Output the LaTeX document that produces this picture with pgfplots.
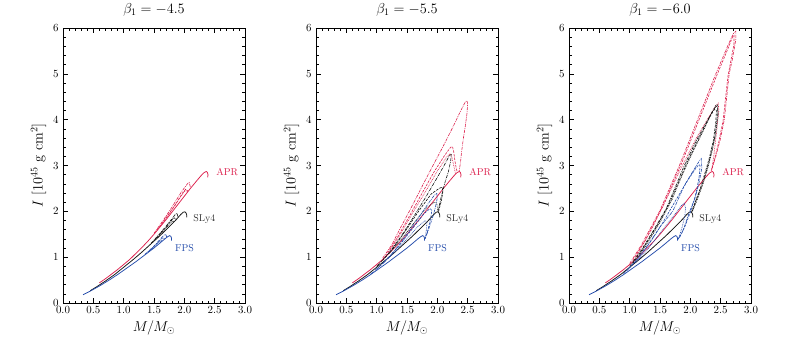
\documentclass[border=0pt]{standalone}
\usepackage{pgfplots}
\pgfplotsset{compat=1.18}
\definecolor{aprc}{HTML}{DC1E4B}
\definecolor{fpsc}{HTML}{234BAA}
\definecolor{slyc}{HTML}{111111}

\pgfplotsset{
  panel/.style={
    scale only axis, width=182bp, height=275bp,
    xmin=0, xmax=3, ymin=0, ymax=6,
    xtick={0,0.5,1,1.5,2,2.5,3}, ytick={0,1,2,3,4,5,6},
    minor x tick num=4, minor y tick num=4,
    tick align=inside, major tick length=5bp, minor tick length=2.5bp,
    axis line style={line width=0.9bp},
    every tick/.style={black, line width=0.6bp},
    xticklabel style={/pgf/number format/.cd, fixed, fixed zerofill, precision=1},
    yticklabel style={xshift=-1bp},
    ticklabel style={font=\fontsize{10.5}{12}\selectfont},
    label style={font=\fontsize{14}{16}\selectfont},
    title style={font=\fontsize{14}{16}\selectfont, at={(0.5,1)}, anchor=south, yshift=2bp},
    xlabel={$M/M_\odot$},
    ylabel={$I\ [10^{45}\ \mathrm{g\ cm}^{2}]$},
    clip=false,
  },
  gr/.style={line width=0.75bp},
  dd/.style={line width=0.6bp, dash pattern=on 3pt off 1pt on 0.8pt off 1pt},
  ds/.style={line width=0.6bp, dash pattern=on 2.5pt off 1.2pt},
  dt/.style={line width=0.6bp, dash pattern=on 0.8pt off 0.9pt},
}

\newcommand\grcurves{%
  \addplot[gr, aprc] coordinates {(0.60,0.44) (0.70,0.53) (0.80,0.63) (0.90,0.73) (1.00,0.84) (1.10,0.95) (1.20,1.08) (1.30,1.21) (1.40,1.35) (1.50,1.50) (1.60,1.66) (1.70,1.82) (1.80,1.99) (1.90,2.16) (2.00,2.33) (2.10,2.50) (2.20,2.66) (2.27,2.77) (2.32,2.84) (2.36,2.87) (2.38,2.85) (2.39,2.80) (2.385,2.74)};
  \addplot[gr, slyc] coordinates {(0.45,0.27) (0.55,0.35) (0.70,0.48) (0.85,0.62) (1.00,0.78) (1.15,0.94) (1.30,1.11) (1.45,1.29) (1.60,1.47) (1.70,1.60) (1.80,1.73) (1.88,1.84) (1.94,1.93) (1.98,1.98) (2.01,1.99) (2.03,1.96) (2.04,1.92) (2.04,1.87)};
  \addplot[gr, fpsc] coordinates {(0.33,0.18) (0.45,0.26) (0.60,0.37) (0.75,0.49) (0.90,0.62) (1.05,0.76) (1.20,0.90) (1.35,1.05) (1.50,1.20) (1.60,1.31) (1.68,1.40) (1.73,1.45) (1.76,1.47) (1.78,1.45) (1.79,1.41) (1.79,1.36)};
  \node[aprc, font=\fontsize{10}{12}\selectfont, anchor=west] at (axis cs:2.47,2.86) {APR};
  \node[slyc!85, font=\fontsize{10}{12}\selectfont, anchor=west] at (axis cs:2.09,1.84) {SLy4};
  \node[fpsc, font=\fontsize{10}{12}\selectfont, anchor=west] at (axis cs:1.79,1.19) {FPS};
}

\begin{document}
\begin{tikzpicture}
\useasboundingbox (0,0) rectangle (789bp,345bp);

% beta_1 = -4.5
\begin{axis}[panel, at={(63bp,42bp)}, anchor=south west, title={$\beta_1=-4.5$}]
  \grcurves
  \addplot[dd, aprc] coordinates {(1.50,1.52) (1.65,1.80) (1.80,2.10) (1.95,2.42) (2.05,2.60) (2.08,2.63) (2.09,2.58) (2.10,2.52)};
  \addplot[ds, aprc] coordinates {(1.55,1.59) (1.70,1.86) (1.85,2.14) (1.97,2.40) (2.02,2.48) (2.04,2.47) (2.06,2.43)};
  \addplot[dt, aprc] coordinates {(1.60,1.67) (1.75,1.95) (1.90,2.24) (2.00,2.43) (2.03,2.45) (2.05,2.42)};
  \addplot[dd, slyc] coordinates {(1.45,1.30) (1.60,1.52) (1.75,1.76) (1.85,1.93) (1.88,1.96) (1.89,1.90) (1.90,1.87)};
  \addplot[ds, slyc] coordinates {(1.50,1.36) (1.65,1.58) (1.78,1.79) (1.83,1.86) (1.85,1.84) (1.86,1.80)};
  \addplot[dt, slyc] coordinates {(1.55,1.42) (1.70,1.64) (1.80,1.78) (1.82,1.79) (1.83,1.77)};
  \addplot[dd, fpsc] coordinates {(1.35,1.06) (1.50,1.24) (1.62,1.42) (1.68,1.50) (1.70,1.48) (1.71,1.43)};
  \addplot[ds, fpsc] coordinates {(1.40,1.11) (1.55,1.30) (1.63,1.41) (1.66,1.43) (1.67,1.39)};
  \addplot[dt, fpsc] coordinates {(1.45,1.16) (1.57,1.31) (1.62,1.36) (1.64,1.36)};
\end{axis}

% beta_1 = -5.5
\begin{axis}[panel, at={(316bp,42bp)}, anchor=south west, title={$\beta_1=-5.5$}]
  \grcurves
  \addplot[dd, aprc] coordinates {(1.10,0.98) (1.25,1.27) (1.40,1.66) (1.55,2.03) (1.72,2.47) (1.90,2.93) (2.10,3.43) (2.25,3.82) (2.38,4.18) (2.45,4.36) (2.48,4.41) (2.50,4.38) (2.49,4.15) (2.46,3.85) (2.43,3.60) (2.40,3.30) (2.38,3.05) (2.36,2.88)};
  \addplot[ds, aprc] coordinates {(1.15,1.02) (1.35,1.45) (1.55,1.92) (1.75,2.40) (1.95,2.87) (2.12,3.22) (2.22,3.40) (2.25,3.41) (2.27,3.30) (2.29,3.10) (2.31,2.95) (2.33,2.85)};
  \addplot[dt, aprc] coordinates {(1.20,1.10) (1.40,1.52) (1.60,1.98) (1.80,2.42) (2.00,2.88) (2.15,3.18) (2.21,3.26) (2.24,3.18) (2.27,3.00) (2.30,2.82)};
  \addplot[dd, slyc] coordinates {(1.00,0.80) (1.20,1.08) (1.40,1.45) (1.60,1.86) (1.80,2.29) (2.00,2.74) (2.12,3.02) (2.20,3.22) (2.23,3.24) (2.22,3.10) (2.18,2.85) (2.13,2.65) (2.08,2.40) (2.04,2.18) (2.01,2.00)};
  \addplot[ds, slyc] coordinates {(1.10,0.93) (1.30,1.25) (1.50,1.62) (1.70,2.02) (1.90,2.38) (2.03,2.50) (2.08,2.53) (2.09,2.42) (2.07,2.25) (2.04,2.10) (2.02,1.99)};
  \addplot[dt, slyc] coordinates {(1.20,1.07) (1.40,1.38) (1.60,1.72) (1.80,2.05) (1.95,2.20) (1.99,2.18) (2.00,2.08) (2.01,1.99)};
  \addplot[dd, fpsc] coordinates {(0.90,0.63) (1.10,0.86) (1.30,1.15) (1.50,1.50) (1.70,1.88) (1.85,2.17) (1.95,2.35) (1.99,2.39) (2.00,2.30) (1.97,2.10) (1.93,1.90) (1.88,1.70) (1.84,1.55) (1.81,1.44) (1.80,1.40)};
  \addplot[ds, fpsc] coordinates {(1.00,0.74) (1.20,0.99) (1.40,1.30) (1.60,1.64) (1.78,1.95) (1.88,2.06) (1.91,2.02) (1.89,1.85) (1.86,1.68) (1.83,1.52) (1.80,1.42)};
  \addplot[dt, fpsc] coordinates {(1.10,0.86) (1.30,1.11) (1.50,1.40) (1.68,1.67) (1.80,1.80) (1.83,1.76) (1.82,1.60) (1.80,1.45)};
\end{axis}

% beta_1 = -6.0
\begin{axis}[panel, at={(569bp,42bp)}, anchor=south west, title={$\beta_1=-6.0$}]
  \grcurves
  \addplot[dd, aprc] coordinates {(1.00,0.86) (1.20,1.28) (1.50,2.02) (1.82,3.00) (2.12,4.00) (2.42,5.00) (2.62,5.62) (2.71,5.88) (2.75,5.93) (2.75,5.75) (2.69,5.30) (2.64,5.00) (2.56,4.00) (2.49,3.55) (2.42,3.20) (2.35,2.90)};
  \addplot[ds, aprc] coordinates {(1.05,0.93) (1.25,1.35) (1.55,2.12) (1.86,3.06) (2.15,4.02) (2.44,4.98) (2.62,5.55) (2.70,5.82) (2.72,5.84) (2.72,5.65) (2.62,4.95) (2.54,3.98) (2.47,3.52) (2.40,3.15) (2.35,2.89)};
  \addplot[dt, aprc] coordinates {(1.10,1.00) (1.35,1.58) (1.60,2.25) (1.85,2.95) (2.10,3.60) (2.30,4.05) (2.42,4.30) (2.46,4.36) (2.47,4.20) (2.43,3.70) (2.39,3.25) (2.36,2.98) (2.34,2.87)};
  \addplot[dd, slyc] coordinates {(1.00,0.80) (1.20,1.17) (1.40,1.60) (1.60,2.05) (1.75,2.52) (1.90,3.00) (2.10,3.55) (2.29,4.00) (2.38,4.22) (2.43,4.30) (2.45,4.25) (2.44,4.00) (2.40,3.60) (2.34,3.25) (2.29,3.00) (2.20,2.60) (2.10,2.25) (2.03,2.00)};
  \addplot[ds, slyc] coordinates {(1.05,0.86) (1.25,1.25) (1.45,1.68) (1.65,2.16) (1.80,2.62) (1.95,3.08) (2.15,3.62) (2.32,4.06) (2.40,4.23) (2.43,4.20) (2.42,3.95) (2.38,3.55) (2.32,3.20) (2.26,2.92) (2.17,2.52) (2.08,2.20) (2.02,1.99)};
  \addplot[dt, slyc] coordinates {(1.10,0.92) (1.30,1.32) (1.50,1.76) (1.70,2.26) (1.85,2.74) (2.00,3.18) (2.20,3.72) (2.35,4.14) (2.42,4.31) (2.45,4.33) (2.46,4.12) (2.42,3.70) (2.36,3.32) (2.30,3.00) (2.21,2.60) (2.11,2.24) (2.03,1.99)};
  \addplot[dd, fpsc] coordinates {(0.90,0.64) (1.10,0.92) (1.30,1.26) (1.50,1.66) (1.71,2.00) (1.90,2.56) (2.10,3.00) (2.16,3.12) (2.18,3.15) (2.19,2.95) (2.14,2.60) (2.08,2.30) (2.01,2.07) (1.95,1.85) (1.89,1.62) (1.84,1.48) (1.80,1.38)};
  \addplot[ds, fpsc] coordinates {(0.95,0.70) (1.15,0.98) (1.35,1.35) (1.55,1.76) (1.75,2.22) (1.95,2.66) (2.08,2.92) (2.14,3.02) (2.16,3.00) (2.15,2.80) (2.11,2.50) (2.06,2.22) (2.00,1.98) (1.92,1.70) (1.85,1.50) (1.80,1.40)};
  \addplot[dt, fpsc] coordinates {(1.10,0.88) (1.30,1.18) (1.50,1.52) (1.70,1.86) (1.85,2.12) (1.90,2.18) (1.92,2.08) (1.91,1.90) (1.87,1.68) (1.83,1.50) (1.80,1.40)};
\end{axis}
\end{tikzpicture}
\end{document}
